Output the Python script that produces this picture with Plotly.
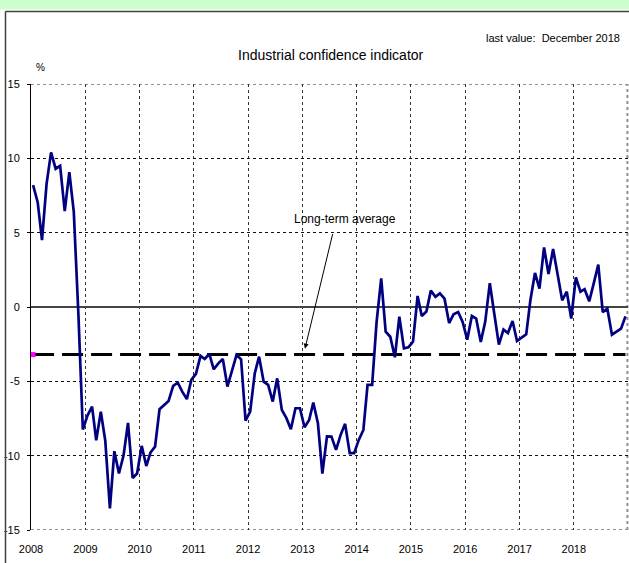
import plotly.graph_objects as go

# ---- data (monthly, Jan 2008 - Dec 2018) ----
years = list(range(2008, 2019))
vals_2008 = [8.2, 7.05, 4.5, 8.3, 10.4, 9.3, 9.5, 6.45, 9.07, 6.4, -0.5, -8.24]
vals_2009 = [-7.3, -6.7, -8.96, -7.05, -9.0, -13.55, -9.7, -11.2, -9.97, -7.8, -11.5, -11.2]
vals_2010 = [-9.34, -10.7, -9.79, -9.39, -6.88, -6.59, -6.32, -5.31, -5.09, -5.69, -6.2, -4.9]
vals_2011 = [-4.5, -3.29, -3.5, -3.16, -4.19, -3.79, -3.5, -5.35, -4.23, -3.23, -3.52, -7.64]
vals_2012 = [-7.04, -4.46, -3.34, -5.02, -5.24, -6.36, -4.8, -6.92, -7.48, -8.22, -6.81, -6.81]
vals_2013 = [-8.09, -7.6, -6.43, -7.82, -11.2, -8.7, -8.72, -9.61, -8.6, -7.86, -9.83, -9.83]
vals_2014 = [-8.94, -8.27, -5.24, -5.24, -1.0, 1.93, -1.66, -2.0, -3.38, -0.65, -2.78, -2.71]
vals_2015 = [-2.33, 0.74, -0.6, -0.31, 1.1, 0.69, 0.92, 0.56, -1.08, -0.49, -0.34, -1.01]
vals_2016 = [-2.2, -0.6, -0.78, -2.35, -1.0, 1.6, -0.45, -2.53, -1.52, -1.75, -0.94, -2.29]
vals_2017 = [-2.06, -1.84, 0.45, 2.29, 1.23, 4.01, 2.22, 3.9, 2.15, 0.45, 1.03, -0.78]
vals_2018 = [1.99, 1.03, 1.2, 0.38, 1.57, 2.85, -0.34, -0.11, -1.86, -1.68, -1.46, -0.63]
long_term_average = -3.2

y_tick_vals = [15, 10, 5, 0, -5, -10, -15]
x_tick_labels = [str(y) for y in years] + [""]

values = (vals_2008 + vals_2009 + vals_2010 + vals_2011 + vals_2012 + vals_2013
          + vals_2014 + vals_2015 + vals_2016 + vals_2017 + vals_2018)
dates = [f"{y}-{m:02d}-15" for y in years for m in range(1, 13)]
x_tick_vals = [f"{y}-01-01" for y in years] + ["2019-01-01"]

FONT = "Liberation Sans, Arial, sans-serif"

fig = go.Figure()

fig.add_trace(go.Scatter(
    x=dates, y=[long_term_average] * len(dates), mode="lines",
    line=dict(color="black", width=3, dash="21px,8px"),
    hoverinfo="skip", showlegend=False))
fig.add_trace(go.Scatter(
    x=dates[:1], y=[long_term_average], mode="markers",
    marker=dict(color="#ff00ff", symbol="square", size=5),
    hoverinfo="skip", showlegend=False))
fig.add_trace(go.Scatter(
    x=dates, y=values, mode="lines",
    line=dict(color="#000080", width=2.7),
    showlegend=False))

# paper helpers (plot area: x 31..628 px, y 84..530 px)
L, R, T, B = 31, 628, 84, 530
W, H = R - L, B - T
def px(x):
    return (x - L) / W
def py(y):
    return (B - y) / H

shapes = [
    dict(type="rect", xref="paper", yref="paper", x0=px(-2), x1=px(640), y0=py(9.5), y1=py(-2),
         fillcolor="#ccffcc", line=dict(width=0), layer="below"),
    dict(type="line", xref="paper", yref="paper", x0=px(5.5), x1=px(640), y0=py(11.5), y1=py(11.5),
         line=dict(color="#404040", width=1.5)),
    dict(type="line", xref="paper", yref="paper", x0=px(5.5), x1=px(5.5), y0=py(11.5), y1=py(570),
         line=dict(color="#404040", width=1.5)),
    dict(type="line", xref="paper", yref="y", x0=0, x1=1, y0=15, y1=15,
         line=dict(color="#909090", width=2, dash="dot"), layer="below"),
    dict(type="line", xref="paper", yref="y", x0=0, x1=1, y0=-15, y1=-15,
         line=dict(color="#909090", width=2, dash="dot"), layer="below"),
    dict(type="line", xref="paper", yref="paper", x0=0.999, x1=0.999, y0=0, y1=1,
         line=dict(color="#909090", width=2, dash="dot"), layer="below"),
]

annotations = [
    dict(xref="paper", yref="paper", x=px(331), y=py(55), text="Industrial confidence indicator",
         showarrow=False, xanchor="center", yanchor="middle", font=dict(size=14, family=FONT, color="black")),
    dict(xref="paper", yref="paper", x=px(622), y=py(38), text="last value:  December 2018",
         showarrow=False, xanchor="right", yanchor="middle", font=dict(size=11, family=FONT, color="black")),
    dict(xref="paper", yref="paper", x=px(40), y=py(68), text="%",
         showarrow=False, xanchor="center", yanchor="middle", font=dict(size=10, family=FONT, color="black")),
    dict(xref="paper", yref="paper", x=px(345), y=py(219), text="Long-term average",
         showarrow=False, xanchor="center", yanchor="middle", font=dict(size=12, family=FONT, color="black")),
    dict(xref="x", yref="y", x="2013-01-18", y=-2.8, text="", showarrow=True,
         ax=28, ay=-116, arrowhead=2, arrowsize=1, arrowwidth=1, arrowcolor="black", standoff=0),
]

fig.update_layout(
    width=629, height=563,
    margin=dict(l=L, r=629 - R, t=T, b=563 - B, autoexpand=False),
    paper_bgcolor="white", plot_bgcolor="white",
    font=dict(family=FONT, color="black"),
    shapes=shapes, annotations=annotations,
    showlegend=False,
)
fig.update_xaxes(
    type="date", range=["2008-01-01", "2019-01-01"],
    tickvals=x_tick_vals, ticktext=x_tick_labels,
    showgrid=True, gridcolor="#333333", griddash="dot", gridwidth=1,
    showline=False, zeroline=False, ticks="", automargin=False,
    tickfont=dict(size=11, family=FONT, color="black"), ticklabelstandoff=11,
)
fig.update_yaxes(
    range=[-15, 15], tickvals=y_tick_vals, ticktext=[str(v) for v in y_tick_vals],
    showgrid=True, gridcolor="#111111", griddash="dot", gridwidth=1,
    zeroline=True, zerolinecolor="#444444", zerolinewidth=1.5,
    showline=True, linecolor="black", linewidth=1, automargin=False,
    ticks="outside", ticklen=3, tickcolor="black",
    tickfont=dict(size=11, family=FONT, color="black"), ticklabelstandoff=5,
)

fig.write_html("out.html", config={"displayModeBar": False},
               post_script="document.body.style.margin='0';document.body.style.padding='0';")
